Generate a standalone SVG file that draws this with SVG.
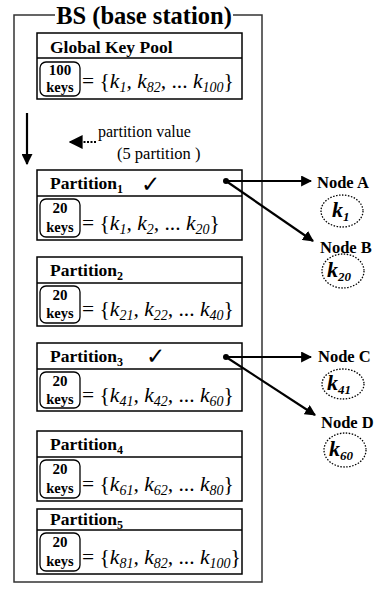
<svg xmlns="http://www.w3.org/2000/svg" width="379" height="593" viewBox="0 0 379 593" font-family="'Liberation Serif', 'Times New Roman', serif">
<defs>
<style>
svg text{font-family:'Liberation Serif', 'Times New Roman', serif;fill:#000}
.box{fill:#fff;stroke:#000;stroke-width:1.5}
.keys{fill:none;stroke:#000;stroke-width:1.3}
.hd{font-size:17.5px;font-weight:bold}
.hs{font-size:12px;font-weight:bold}
.kn{font-size:15px;font-weight:bold;text-anchor:middle}
.kw{font-size:14.5px;font-weight:bold;text-anchor:middle}
.set{font-size:21.5px}
.i{font-style:italic}
.sb{font-size:14px;font-style:italic}
.nl{font-size:16.5px;font-weight:bold}
.nc{fill:none;stroke:#000;stroke-width:1.3;stroke-dasharray:1.5 1.5}
.nk{font-size:22px;font-weight:bold;font-style:italic}
.nks{font-size:13px;font-weight:bold;font-style:italic}
.con{stroke:#000;stroke-width:2.2;fill:none}
svg text.chk{font-family:'DejaVu Sans', sans-serif;font-size:23px;font-weight:bold}
</style>
<marker id="ah" viewBox="0 0 10 10" refX="9" refY="5" markerWidth="5" markerHeight="5" orient="auto" markerUnits="strokeWidth">
<path d="M0,0 L10,5 L0,10 z" fill="#000"/>
</marker>
<marker id="ah2" viewBox="0 0 10 10" refX="9" refY="5" markerWidth="7" markerHeight="7" orient="auto" markerUnits="strokeWidth">
<path d="M0,0 L10,5 L0,10 z" fill="#000"/>
</marker>
</defs>

<g id="bs-frame">
<path d="M55,15 H14 V582 H262 V15 H233" fill="none" stroke="#333" stroke-width="1.5"/>
<text x="144" y="24" font-size="24.5" font-weight="bold" text-anchor="middle">BS (base station)</text>
</g>

<g id="global-key-pool">
<rect class="box" x="37" y="33" width="205" height="66"/>
<line x1="37" y1="58" x2="242" y2="58" stroke="#000" stroke-width="1.5"/>
<text class="hd" x="50" y="53">Global Key Pool</text>
<rect class="keys" x="40" y="62" width="40" height="34" rx="6"/>
<text class="kn" x="60" y="75" font-size="13">100</text>
<text class="kw" x="60" y="92">keys</text>
<text class="set" x="82" y="88">= {<tspan class="i">k</tspan><tspan class="sb" dy="4">1</tspan><tspan class="i" dy="-4">, k</tspan><tspan class="sb" dy="4">82</tspan><tspan class="i" dy="-4">,</tspan> ... <tspan class="i">k</tspan><tspan class="sb" dy="4">100</tspan><tspan dy="-4">}</tspan></text>
</g>

<g id="partition-value">
<text x="98" y="137" font-size="16">partition value</text>
<text x="117" y="159" font-size="16.5">(5 partition )</text>
</g>

<g id="partition1" transform="translate(0,170)">
<rect class="box" x="37" y="0" width="205" height="70"/>
<line x1="37" y1="26" x2="242" y2="26" stroke="#000" stroke-width="1.5"/>
<text class="hd" x="50" y="19">Partition<tspan class="hs" dy="4">1</tspan></text>
<text class="chk" x="141" y="22">✓</text>
<circle cx="226" cy="11" r="3"/>
<rect class="keys" x="40" y="29" width="40" height="38" rx="6"/>
<text class="kn" x="60" y="43">20</text>
<text class="kw" x="60" y="62">keys</text>
<text class="set" x="82" y="60">= {<tspan class="i">k</tspan><tspan class="sb" dy="4">1</tspan><tspan class="i" dy="-4">, k</tspan><tspan class="sb" dy="4">2</tspan><tspan class="i" dy="-4">,</tspan> ... <tspan class="i">k</tspan><tspan class="sb" dy="4">20</tspan><tspan dy="-4">}</tspan></text>
</g>

<g id="partition2" transform="translate(0,257)">
<rect class="box" x="37" y="0" width="205" height="69"/>
<line x1="37" y1="26" x2="242" y2="26" stroke="#000" stroke-width="1.5"/>
<text class="hd" x="50" y="19">Partition<tspan class="hs" dy="4">2</tspan></text>
<rect class="keys" x="40" y="29" width="40" height="37" rx="6"/>
<text class="kn" x="60" y="43">20</text>
<text class="kw" x="60" y="61">keys</text>
<text class="set" x="82" y="59">= {<tspan class="i">k</tspan><tspan class="sb" dy="4">21</tspan><tspan class="i" dy="-4">, k</tspan><tspan class="sb" dy="4">22</tspan><tspan class="i" dy="-4">,</tspan> ... <tspan class="i">k</tspan><tspan class="sb" dy="4">40</tspan><tspan dy="-4">}</tspan></text>
</g>

<g id="partition3" transform="translate(0,343)">
<rect class="box" x="37" y="0" width="205" height="68"/>
<line x1="37" y1="26" x2="242" y2="26" stroke="#000" stroke-width="1.5"/>
<text class="hd" x="50" y="19">Partition<tspan class="hs" dy="4">3</tspan></text>
<text class="chk" x="146" y="21">✓</text>
<circle cx="226" cy="14" r="3"/>
<rect class="keys" x="40" y="29" width="40" height="36" rx="6"/>
<text class="kn" x="60" y="43">20</text>
<text class="kw" x="60" y="61">keys</text>
<text class="set" x="82" y="59">= {<tspan class="i">k</tspan><tspan class="sb" dy="4">41</tspan><tspan class="i" dy="-4">, k</tspan><tspan class="sb" dy="4">42</tspan><tspan class="i" dy="-4">,</tspan> ... <tspan class="i">k</tspan><tspan class="sb" dy="4">60</tspan><tspan dy="-4">}</tspan></text>
</g>

<g id="partition4" transform="translate(0,431)">
<rect class="box" x="37" y="0" width="205" height="70"/>
<line x1="37" y1="26" x2="242" y2="26" stroke="#000" stroke-width="1.5"/>
<text class="hd" x="50" y="19">Partition<tspan class="hs" dy="4">4</tspan></text>
<rect class="keys" x="40" y="29" width="40" height="38" rx="6"/>
<text class="kn" x="60" y="43">20</text>
<text class="kw" x="60" y="62">keys</text>
<text class="set" x="82" y="60">= {<tspan class="i">k</tspan><tspan class="sb" dy="4">61</tspan><tspan class="i" dy="-4">, k</tspan><tspan class="sb" dy="4">62</tspan><tspan class="i" dy="-4">,</tspan> ... <tspan class="i">k</tspan><tspan class="sb" dy="4">80</tspan><tspan dy="-4">}</tspan></text>
</g>

<g id="partition5" transform="translate(0,509)">
<rect class="box" x="37" y="0" width="205" height="65"/>
<line x1="37" y1="21" x2="242" y2="21" stroke="#000" stroke-width="1.5"/>
<text class="hd" x="50" y="16">Partition<tspan class="hs" dy="4">5</tspan></text>
<rect class="keys" x="40" y="24" width="40" height="38" rx="6"/>
<text class="kn" x="60" y="38">20</text>
<text class="kw" x="60" y="57">keys</text>
<text class="set" x="82" y="55">= {<tspan class="i">k</tspan><tspan class="sb" dy="4">81</tspan><tspan class="i" dy="-4">, k</tspan><tspan class="sb" dy="4">82</tspan><tspan class="i" dy="-4">,</tspan> ... <tspan class="i">k</tspan><tspan class="sb" dy="4">100</tspan><tspan dy="-4">}</tspan></text>
</g>

<g id="nodeA">
<text class="nl" x="317" y="188">Node A</text>
<ellipse class="nc" cx="342" cy="211" rx="21" ry="16"/>
<text class="nk" x="332" y="217">k<tspan class="nks" dy="4">1</tspan></text>
</g>
<g id="nodeB">
<text class="nl" x="320" y="253">Node B</text>
<ellipse class="nc" cx="343" cy="271" rx="21" ry="17"/>
<text class="nk" x="327" y="277">k<tspan class="nks" dy="4">20</tspan></text>
</g>
<g id="nodeC">
<text class="nl" x="318" y="362">Node C</text>
<ellipse class="nc" cx="343" cy="384" rx="21" ry="15"/>
<text class="nk" x="327" y="390">k<tspan class="nks" dy="4">41</tspan></text>
</g>
<g id="nodeD">
<text class="nl" x="321" y="428">Node D</text>
<ellipse class="nc" cx="345" cy="450" rx="21" ry="17"/>
<text class="nk" x="329" y="456">k<tspan class="nks" dy="4">60</tspan></text>
</g>

<g id="connectors">
<line class="con" x1="27" y1="113" x2="27" y2="164" marker-end="url(#ah)"/>
<line x1="96" y1="142" x2="70" y2="142" stroke="#000" stroke-width="2" stroke-dasharray="2 1.5" marker-end="url(#ah2)"/>
<line class="con" x1="226" y1="181" x2="311" y2="181" marker-end="url(#ah)"/>
<line class="con" x1="226" y1="181" x2="313" y2="241" marker-end="url(#ah)"/>
<line class="con" x1="226" y1="357" x2="311" y2="357" marker-end="url(#ah)"/>
<line class="con" x1="226" y1="357" x2="315" y2="415" marker-end="url(#ah)"/>
</g>
</svg>
